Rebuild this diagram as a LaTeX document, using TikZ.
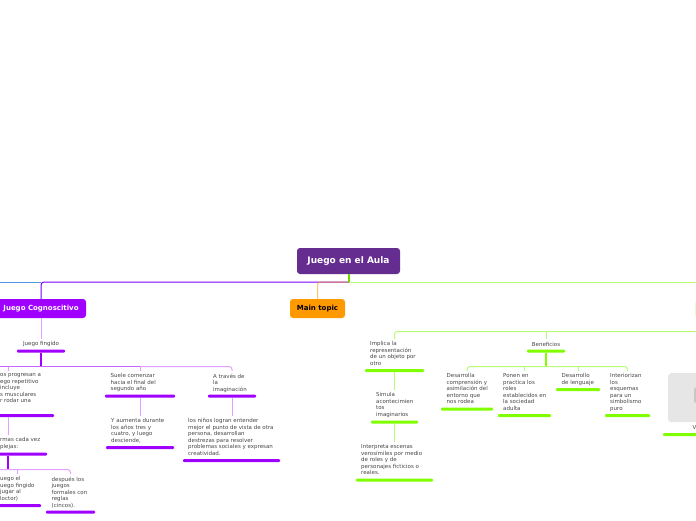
\documentclass[tikz,border=0pt]{standalone}
\usepackage{xcolor}
\usepackage{fontspec}
\setmainfont{DejaVu Sans}
\usetikzlibrary{positioning}
\definecolor{rootpurple}{RGB}{102,45,145}
\definecolor{mainpurple}{RGB}{160,0,255}
\definecolor{lightpurple}{RGB}{224,160,255}
\definecolor{mainorange}{RGB}{255,153,0}
\definecolor{limegreen}{RGB}{128,255,0}
\definecolor{paleline}{RGB}{185,250,120}
\definecolor{leftblue}{RGB}{80,150,230}
\definecolor{textgray}{RGB}{70,70,70}
\definecolor{boxgray}{RGB}{230,230,230}

\begin{document}
\begin{tikzpicture}[
    x=1pt, y=-1pt,
    topic/.style={rectangle, rounded corners=3pt, inner sep=0pt, font=\fontsize{7}{8}\selectfont\bfseries},
    leaf/.style={anchor=north west, inner sep=0pt, align=left, text=textgray, font=\fontsize{5.5}{6.5}\selectfont},
    pbar/.style={rectangle, rounded corners=1pt, inner sep=0pt, minimum height=3pt, fill=mainpurple},
    gbar/.style={rectangle, rounded corners=1pt, inner sep=0pt, minimum height=3pt, fill=limegreen},
    plink/.style={lightpurple, line width=1pt, rounded corners=3pt, shorten >=2.5pt},
    pthick/.style={mainpurple, line width=1.6pt},
    glink/.style={paleline, line width=1pt, rounded corners=3pt, shorten >=2.5pt},
    gthick/.style={limegreen, line width=1.6pt}
  ]
    \useasboundingbox (0,0) rectangle (696,520);

    % top level
    \node[topic, fill=rootpurple, text=white, minimum width=103pt, minimum height=26pt, font=\fontsize{9}{10}\selectfont\bfseries] (root) at (348.5,261) {Juego en el Aula};
    \node[topic, fill=mainpurple, text=white, minimum width=90pt, minimum height=19pt] (cogn) at (41,308.5) {Juego Cognoscitivo};
    \node[topic, fill=mainorange, text=black, minimum width=55pt, minimum height=19pt] (maintopic) at (317.5,308.5) {Main topic};
    \node[rectangle, rounded corners=2pt, draw=paleline, fill=white, minimum width=20pt, minimum height=16pt, inner sep=0pt, anchor=north west] (greentopic) at (695.5,301) {};
    \coordinate (rootdown) at (349,282);
    \coordinate (leftend) at (0,282);
    \coordinate (rightend) at (696,282);

    \draw[mainpurple!75!blue, line width=1pt, rounded corners=3pt] (rootdown) -- (rootdown -| cogn) -- (cogn.north);
    \draw[leftblue, line width=1pt] (leftend) -- (rootdown -| cogn);
    \draw[mainorange, opacity=.6, line width=1pt, rounded corners=3pt] (rootdown) -- (rootdown -| maintopic) -- (maintopic.north);
    \draw[paleline, line width=1pt] (rootdown) -- (rightend);
    \draw[limegreen!85!black, line width=1.5pt] (root.south -| rootdown) -- ([yshift=.5pt]rootdown);

    % Juego Cognoscitivo
    \node[leaf, anchor=center] (fingido) at (41,344) {Juego fingido};
    \node[pbar, minimum width=48pt] (fingidobar) at (41,351) {};
    \draw[plink] (cogn) -- (fingido);
    \coordinate (purplerail) at (41,366.5);
    \coordinate (railstart) at (0,366.5);
    \draw[pthick] (fingidobar) -- (purplerail);

    \node[leaf] (progresan) at (0,373.5) {os progresan a\\ego repetitivo\\incluye\\s musculares\\r rodar una};
    \node[pbar, minimum width=92pt] (progresanbar) at (8,415.5) {};
    \node[leaf] (suele) at (110.5,373.5) {Suele comenzar\\hacia el final del\\segundo año};
    \node[pbar, minimum width=70pt] (suelebar) at (140,396) {};
    \node[leaf] (traves) at (213,373.5) {A través de\\la\\imaginación};
    \node[pbar, minimum width=48pt] (travesbar) at (232,396) {};
    \draw[mainpurple!60!white, line width=1pt] (railstart) -- (purplerail -| suelebar);
    \draw[plink] (purplerail -| suelebar) -- (purplerail -| travesbar) -- (travesbar |- traves.north);
    \draw[plink] (purplerail -| progresanbar) -- (progresanbar |- progresan.north);
    \draw[plink] (purplerail -| suelebar) -- (suelebar |- suele.north);

    \node[leaf] (aumenta) at (111,418.5) {Y aumenta durante\\los años tres y\\cuatro, y luego\\desciende,};
    \node[pbar, minimum width=68pt] (aumentabar) at (140,447.5) {};
    \draw[plink] (suelebar) -- (suelebar |- aumenta.north);
    \node[leaf] (logran) at (188,418.5) {los niños logran entender\\mejor el punto de vista de otra\\persona, desarrollan\\destrezas para resolver\\problemas sociales y expresan\\creatividad.};
    \node[pbar, minimum width=97pt] (logranbar) at (231.5,460.5) {};
    \draw[plink] (travesbar) -- (travesbar |- logran.north);

    \node[leaf] (formas) at (0,437.5) {rmas cada vez\\plejas:};
    \node[pbar, minimum width=78pt] (formasbar) at (8,454) {};
    \draw[plink] (progresanbar) -- (progresanbar |- formas.north);
    \coordinate (lowrail) at (8,469.5);
    \coordinate (lowstart) at (0,469.5);
    \draw[pthick] (formasbar) -- (lowrail);
    \node[leaf] (ludico) at (0,476.5) {uego el\\uego fingido\\jugar al\\loctor)};
    \node[pbar, minimum width=48pt] (ludicobar) at (17,505.5) {};
    \node[leaf] (despues) at (51.5,476.5) {después los\\juegos\\formales con\\reglas\\(cincos).};
    \node[pbar, minimum width=49pt] (despuesbar) at (70.5,512) {};
    \draw[plink] (lowstart) -- (lowrail -| despuesbar) -- (despuesbar |- despues.north);
    \draw[plink] (lowrail -| ludicobar) -- (ludicobar |- ludico.north);

    % Main topic (green side)
    \coordinate (greentop) at (696,331.5);
    \node[leaf] (implica) at (370,341.5) {Implica la\\representación\\de un objeto por\\otro};
    \node[gbar, minimum width=59pt] (implicabar) at (394.5,370.5) {};
    \node[leaf] (simula) at (376,392.5) {Simula\\acontecimien\\tos\\imaginarios};
    \node[gbar, minimum width=47pt] (simulabar) at (394.5,422) {};
    \node[leaf] (interpreta) at (361,444.5) {Interpreta escenas\\verosímiles por medio\\de roles y de\\personajes ficticios o\\reales.};
    \node[gbar, minimum width=77pt] (interpretabar) at (394.5,480) {};
    \draw[glink] (greentop) -- (greentop -| implicabar) -- (implicabar |- implica.north);
    \draw[glink] (implicabar) -- (implicabar |- simula.north);
    \draw[glink] (simulabar) -- (simulabar |- interpreta.north);

    \node[leaf, anchor=center] (beneficios) at (546,344) {Beneficios};
    \node[gbar, minimum width=38pt] (beneficiosbar) at (546,351) {};
    \coordinate (greenrail) at (546,366.5);
    \draw[glink] (greentop -| beneficiosbar) -- (beneficios.north);
    \draw[gthick] (beneficiosbar) -- (greenrail);

    \node[leaf] (comprension) at (446.5,373.5) {Desarrolla\\comprensión y\\asimilación del\\entorno que\\nos rodea};
    \node[gbar, minimum width=52pt] (comprensionbar) at (467,409) {};
    \node[leaf] (ponen) at (503,373.5) {Ponen en\\practica los\\roles\\establecidos en\\la sociedad\\adulta};
    \node[gbar, minimum width=53pt] (ponenbar) at (524.5,415.5) {};
    \node[leaf] (lenguaje) at (561.5,373.5) {Desarrollo\\de lenguaje};
    \node[gbar, minimum width=44pt] (lenguajebar) at (578,389.5) {};
    \node[leaf] (interiorizan) at (610,373.5) {Interiorizan\\los\\esquemas\\para un\\simbolismo\\puro};
    \node[gbar, minimum width=45pt] (interiorizanbar) at (627.5,415.5) {};
    \draw[glink] (greenrail) -- (greenrail -| comprensionbar) -- (comprensionbar |- comprension.north);
    \draw[glink] (greenrail) -- (greenrail -| interiorizanbar) -- (interiorizanbar |- interiorizan.north);
    \draw[glink] (greenrail -| ponenbar) -- (ponenbar |- ponen.north);
    \draw[glink] (greenrail -| lenguajebar) -- (lenguajebar |- lenguaje.north);

    % image item cut by the edge
    \node[rectangle, rounded corners=3pt, fill=boxgray, minimum width=40pt, minimum height=49pt, inner sep=0pt, anchor=north west] (imagebox) at (668,373) {};
    \node[rectangle, rounded corners=1pt, fill=black!22, minimum width=8pt, minimum height=15pt, inner sep=0pt, anchor=north west] (imagemark) at (694,387.5) {};
    \node[leaf] (vlabel) at (692.5,425.5) {V};
    \node[gbar, minimum width=60pt] (vbar) at (693,434.5) {};
  \end{tikzpicture}
\end{document}
